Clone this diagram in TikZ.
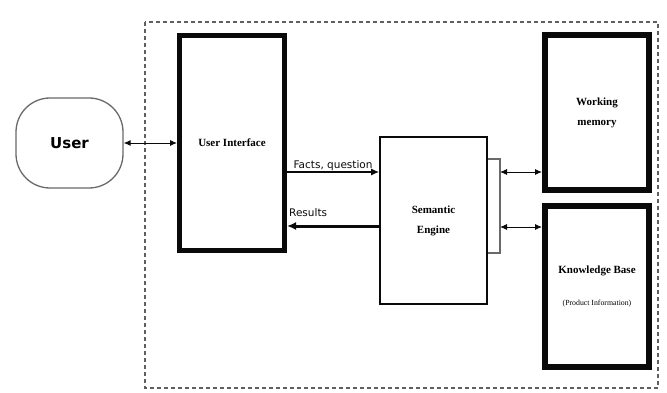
\documentclass[tikz,border=0pt]{standalone}
\usepackage{fontspec}
\setmainfont{Liberation Serif}
\setsansfont{DejaVu Sans}
\usetikzlibrary{arrows.meta, positioning, calc}
\definecolor{FrameGray}{RGB}{95, 95, 95}
\definecolor{EdgeGray}{RGB}{105, 105, 105}
\definecolor{InkBlack}{RGB}{10, 10, 10}
\tikzset{
  blk/.style={rectangle, draw=InkBlack, line width=5pt, fill=white,
    align=center, inner sep=0pt, font=\fontsize{11}{20}\selectfont\bfseries},
  eng/.style={rectangle, draw=InkBlack, line width=1.6pt, fill=white,
    align=center, inner sep=0pt, font=\fontsize{11}{20}\selectfont\bfseries},
  actor/.style={rectangle, rounded corners=34pt, draw=EdgeGray,
    line width=1.3pt, fill=white, inner sep=0pt,
    font=\sffamily\bfseries\fontsize{15}{18}\selectfont},
  frame/.style={draw=FrameGray, line width=1.2pt, dash pattern=on 4pt off 3pt},
  lbl/.style={font=\sffamily\fontsize{10.5}{12}\selectfont, text=InkBlack, inner sep=1pt},
  arr/.style={-{Latex[length=8pt,width=7pt]}, line width=1.4pt, color=InkBlack},
  barr/.style={-{Latex[length=9pt,width=8pt]}, line width=3pt, color=InkBlack},
  darr/.style={{Latex[length=7pt,width=6pt]}-{Latex[length=7pt,width=6pt]},
    line width=0.9pt, color=InkBlack},
}
\begin{document}
\begin{tikzpicture}[x=1pt, y=-1pt]
  \useasboundingbox (0,0) rectangle (667,393);
  % system frame
  \draw[frame] (145,22) rectangle (658,388);
  % nodes
  \node[actor, minimum width=107pt, minimum height=90pt] (user) at (69.5,143) {User};
  \node[blk, minimum width=105pt, minimum height=215pt] (ui) at (232,143) {User Interface};
  \node[eng, minimum width=107pt, minimum height=167pt] (se) at (433.5,220.5)
    {Semantic\\Engine};
  \node[blk, line width=6pt, minimum width=104pt, minimum height=155pt] (wm)
    at (597,112.5) {Working\\memory};
  \node[blk, line width=6pt, minimum width=104pt, minimum height=161pt] (kb)
    at (597,286.5)
    {Knowledge Base\\[12pt]{\mdseries\fontsize{7.8}{9}\selectfont (Product Information)}};
  % bracket on the engine
  \coordinate (brT) at (500,159);
  \coordinate (brB) at (500,253);
  \coordinate (wmIn) at (500,172);
  \coordinate (kbIn) at (500,227);
  \draw[EdgeGray, line width=1.2pt] (se.east |- brT) -- (brT) -- (brB) -- (se.east |- brB);
  % connectors
  \draw[darr] (user.east) -- (ui.west |- user.east);
  \draw[arr] (ui.east |- 0,172) -- node[lbl, above, pos=0.5] {Facts, question} (se.west |- 0,172);
  \draw[barr] (se.west |- 0,226) -- (ui.east |- 0,226);
  \node[lbl, anchor=south west] (res) at ($(ui.east |- 0,218)+(1pt,0)$) {Results};
  \draw[darr] (wmIn) -- (wmIn -| wm.west);
  \draw[darr] (kbIn) -- (kbIn -| kb.west);
\end{tikzpicture}
\end{document}
